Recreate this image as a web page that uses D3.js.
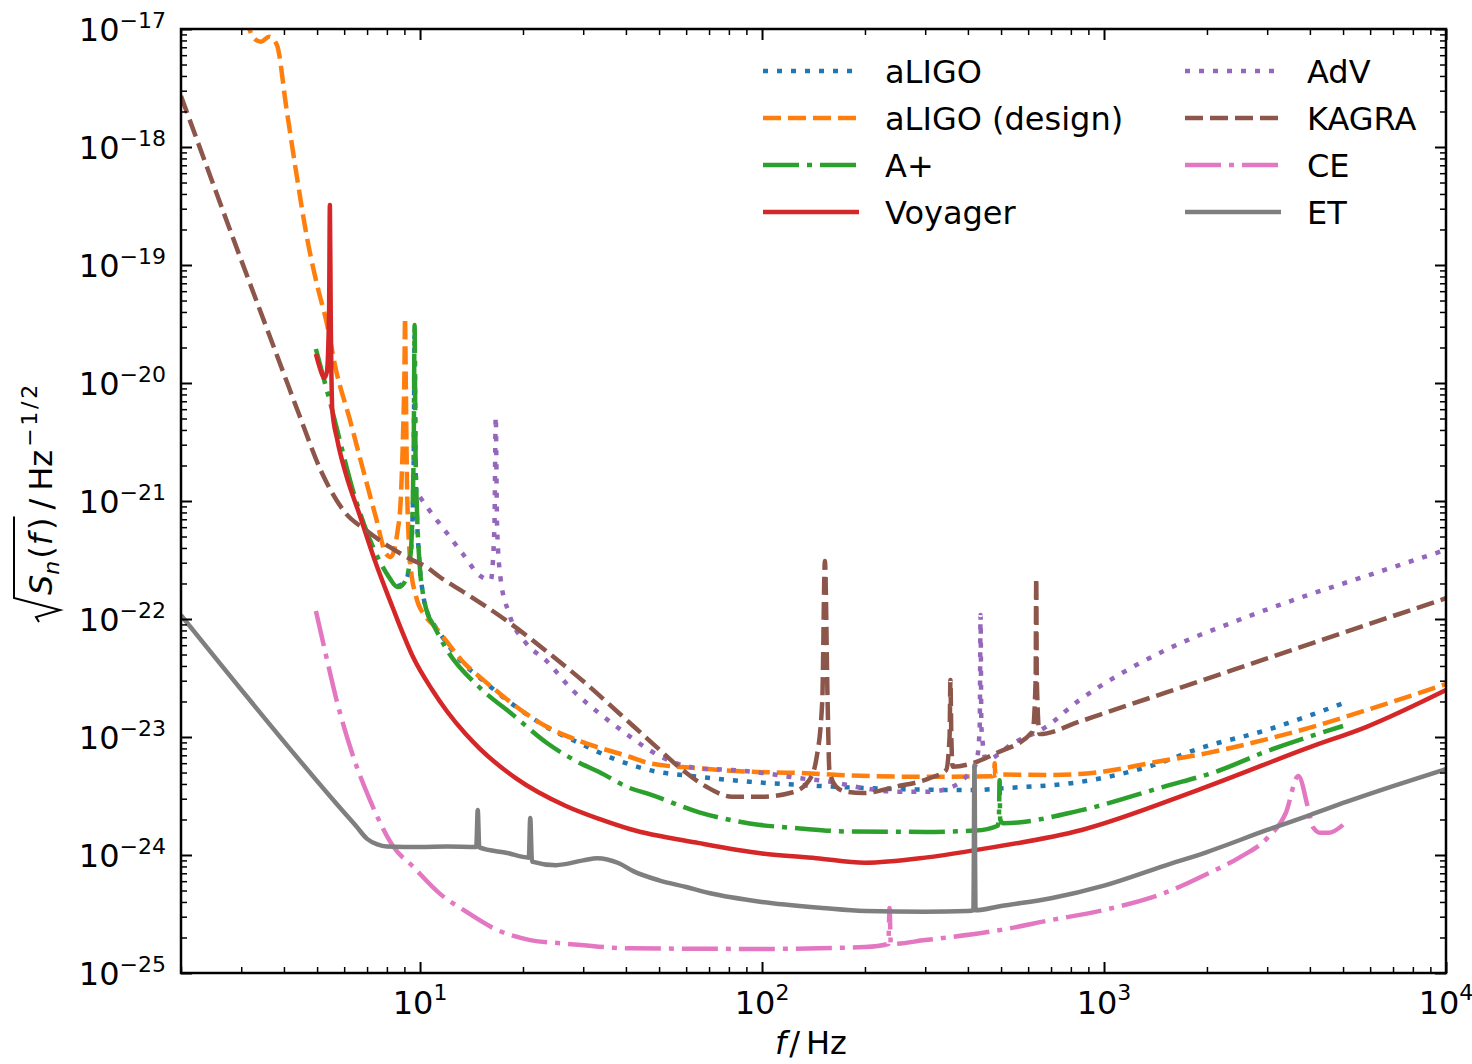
<!DOCTYPE html>
<html>
<head>
<meta charset="utf-8">
<script src="https://cdn.jsdelivr.net/npm/d3@7"></script>
<style>
  body { margin: 0; background: #fff; }
  svg text { font-family: "DejaVu Sans", sans-serif; fill: #000; }
</style>
</head>
<body>
<svg id="chart" width="1472" height="1064"></svg>
<script>
// Шумовые кривые детекторов: частота (Гц) и ASD (1/sqrt(Гц))
const aligoF   = [8.6, 9.1, 9.4, 9.58, 9.64, 9.7, 10.0, 10.16, 10.6, 11.0, 13.6, 15, 17, 18.7, 23.5, 29.4, 37.6, 46.8, 65.5, 92, 129, 160, 250, 420, 500, 860, 1400, 1900, 3000, 5000];
const aligoAsd = [1.9e-22, 2.14e-22, 3.63e-22, 2.0e-21, 2.5e-20, 2.0e-21, 2.6e-22, 1.76e-22, 1.05e-22, 8.9e-23, 4.0e-23, 3.15e-23, 2.33e-23, 1.88e-23, 1.21e-23, 8.8e-24, 6.4e-24, 5.25e-24, 4.6e-24, 4.18e-24, 3.92e-24, 3.8e-24, 3.62e-24, 3.55e-24, 3.67e-24, 4.18e-24, 5.8e-24, 8.0e-24, 1.15e-23, 1.93e-23];

const designF   = [3.1, 3.24, 3.43, 3.62, 3.81, 4.07, 4.36, 4.66, 4.98, 5.33, 5.7, 6.2, 6.78, 7.42, 7.94, 8.21, 8.58, 8.78, 8.92, 9.0, 9.04, 9.08, 9.18, 9.39, 9.71, 10.4, 10.94, 13.6, 15, 17, 18.7, 23.5, 29.4, 41, 46.8, 65.5, 92, 129, 168, 300, 470, 477, 479, 481, 490, 700, 1000, 1400, 2000, 3000, 4000, 5860, 10000];
const designAsd = [1.3e-17, 8.6e-18, 7.8e-18, 8.6e-18, 7.4e-18, 2.1e-18, 5.7e-19, 1.77e-19, 7.1e-20, 3.27e-20, 1.23e-20, 5.18e-21, 1.95e-21, 7.36e-22, 3.6e-22, 3.35e-22, 5.35e-22, 1.02e-21, 3.77e-21, 1.2e-20, 3.56e-20, 1.2e-20, 1.02e-21, 2.77e-22, 1.6e-22, 1.04e-22, 8.9e-23, 4.1e-23, 3.2e-23, 2.37e-23, 1.9e-23, 1.22e-23, 9.2e-24, 6.8e-24, 6.0e-24, 5.43e-24, 5.08e-24, 4.96e-24, 4.77e-24, 4.6e-24, 4.66e-24, 4.7e-24, 6.0e-24, 4.75e-24, 4.8e-24, 4.77e-24, 5.1e-24, 6.1e-24, 7.3e-24, 9.6e-24, 1.2e-23, 1.69e-23, 2.81e-23];

const aplusF   = [4.96, 5.34, 5.5, 6.49, 7.59, 8.11, 8.58, 8.68, 9.08, 9.39, 9.58, 9.64, 9.7, 10.0, 10.16, 10.6, 10.86, 11.97, 15, 18.7, 23.5, 29.4, 33.4, 41, 46.8, 65.5, 92, 129, 180, 300, 420, 489, 493, 495, 497, 508, 860, 1500, 2130, 3000, 5000];
const aplusAsd = [1.94e-20, 8.7e-21, 6.3e-21, 1.02e-21, 3.16e-22, 2.27e-22, 1.87e-22, 1.87e-22, 2.14e-22, 3.63e-22, 2.5e-21, 3.1e-20, 2.5e-21, 2.6e-22, 1.76e-22, 1.05e-22, 9.25e-23, 5.5e-23, 2.6e-23, 1.54e-23, 8.9e-24, 6.0e-24, 5.05e-24, 3.7e-24, 3.28e-24, 2.3e-24, 1.85e-24, 1.68e-24, 1.58e-24, 1.57e-24, 1.61e-24, 1.77e-24, 2.2e-24, 4.3e-24, 2.0e-24, 1.86e-24, 2.4e-24, 3.8e-24, 5.1e-24, 7.6e-24, 1.24e-23];

const voyagerF   = [4.96, 5.15, 5.24, 5.34, 5.42, 5.45, 5.48, 5.54, 5.73, 6.06, 6.63, 7.42, 8.30, 8.68, 9.54, 10.86, 11.97, 13.6, 15, 19, 26.7, 33.4, 41, 65.5, 100, 144, 200, 300, 420, 860, 1880, 4000, 5860, 10000];
const voyagerAsd = [1.76e-20, 1.22e-20, 1.1e-20, 1.24e-20, 4e-20, 3.23e-19, 4e-20, 5.9e-21, 3.29e-21, 1.72e-21, 7.9e-22, 2.98e-22, 1.27e-22, 9.1e-23, 4.76e-23, 2.5e-23, 1.66e-23, 1.06e-23, 7.9e-24, 4.5e-24, 2.6e-24, 2.02e-24, 1.66e-24, 1.26e-24, 1.03e-24, 9.4e-25, 8.6e-25, 9.5e-25, 1.1e-24, 1.63e-24, 3.55e-24, 8.2e-24, 1.22e-23, 2.5e-23];

const advF   = [10, 10.63, 11.89, 13.3, 15, 16.1, 16.5, 16.65, 16.8, 17.2, 18.2, 20.4, 23.3, 27.9, 33.4, 40, 46.8, 56, 65.5, 81.8, 100, 129, 157, 197, 247, 309, 361, 395, 423, 433, 435.5, 438, 452, 540, 677, 848, 970, 1522, 2384, 3735, 5860, 10000];
const advAsd = [1.08e-21, 8.4e-22, 5.5e-22, 3.6e-22, 2.32e-22, 2.14e-22, 6e-22, 5.18e-21, 6e-22, 2.2e-22, 1.12e-22, 6.26e-23, 4.48e-23, 2.5e-23, 1.59e-23, 1.07e-23, 7.75e-24, 6.0e-24, 5.43e-24, 5.25e-24, 4.96e-24, 4.47e-24, 4.2e-24, 3.7e-24, 3.44e-24, 3.44e-24, 3.8e-24, 4.6e-24, 6.0e-24, 1.2e-23, 1.08e-22, 1.2e-23, 6.4e-24, 8.8e-24, 1.22e-23, 2.06e-23, 2.67e-23, 5.5e-23, 9.4e-23, 1.51e-22, 2.32e-22, 3.86e-22];

const kagraF   = [2.0, 3.0, 4.0, 4.43, 5.18, 6.06, 6.94, 8.12, 9.5, 10.4, 11.4, 13.6, 17.8, 23.85, 30.5, 38.2, 47.9, 58.6, 68.6, 81.8, 100, 123, 137.5, 144, 150, 152.7, 155.5, 157.4, 164.6, 176, 197, 247, 309, 345.5, 353.5, 355.6, 357.7, 361, 412.6, 484, 618, 631, 633.6, 636, 648, 848, 970, 1522, 2384, 3735, 5860, 10000];
const kagraAsd = [2.7e-18, 1.1e-19, 1.19e-20, 5.4e-21, 1.7e-21, 7.87e-22, 5.68e-22, 4.1e-22, 3.16e-22, 2.78e-22, 2.28e-22, 1.65e-22, 9.8e-23, 5.12e-23, 2.85e-23, 1.59e-23, 8.8e-24, 5.25e-24, 3.8e-24, 3.12e-24, 3.12e-24, 3.4e-24, 4.32e-24, 6.4e-24, 2.0e-23, 3.1e-22, 2.0e-23, 5.25e-24, 3.8e-24, 3.44e-24, 3.35e-24, 3.8e-24, 4.47e-24, 5.25e-24, 1.0e-23, 3.04e-23, 1.0e-23, 5.6e-24, 6.0e-24, 7.3e-24, 1.11e-23, 3.0e-23, 2.22e-22, 3.0e-23, 1.06e-23, 1.35e-23, 1.54e-23, 2.39e-23, 3.7e-23, 5.75e-23, 8.91e-23, 1.5e-22];

const ceF   = [4.96, 5.21, 5.70, 6.38, 7.14, 8.35, 9.54, 11.4, 13.4, 16.8, 21, 26.2, 41.2, 100, 200, 234, 236, 238, 300, 500, 700, 1000, 1500, 2000, 2500, 3000, 3400, 3700, 3950, 4080, 4300, 4540, 5000];
const ceAsd = [1.17e-22, 6.26e-23, 2.06e-23, 6.8e-24, 2.92e-24, 1.18e-24, 7.96e-25, 4.73e-25, 3.42e-25, 2.32e-25, 1.9e-25, 1.78e-25, 1.62e-25, 1.6e-25, 1.66e-25, 1.76e-25, 3.55e-25, 1.76e-25, 1.9e-25, 2.32e-25, 2.81e-25, 3.42e-25, 4.75e-25, 6.9e-25, 9.6e-25, 1.39e-24, 2.27e-24, 4.67e-24, 2.5e-24, 1.73e-24, 1.54e-24, 1.54e-24, 1.8e-24];

const etF   = [2, 6, 6.5, 7, 7.5, 8, 9, 10, 12, 14.6, 14.75, 14.9, 18, 20.8, 21.0, 21.25, 25, 30, 33, 38, 42, 50, 60, 70, 100, 150, 200, 300, 400, 415, 418, 421, 500, 700, 1000, 1500, 2000, 3000, 4000, 5000, 7000, 10000];
const etAsd = [1.08e-22, 2.29e-24, 1.76e-24, 1.37e-24, 1.23e-24, 1.18e-24, 1.17e-24, 1.17e-24, 1.18e-24, 1.17e-24, 2.41e-24, 1.16e-24, 1.04e-24, 9.5e-25, 2.06e-24, 8.8e-25, 8.2e-25, 9.0e-25, 9.4e-25, 8.55e-25, 7.3e-25, 6.1e-25, 5.35e-25, 4.76e-25, 4.0e-25, 3.56e-25, 3.35e-25, 3.3e-25, 3.35e-25, 3.4e-25, 5.8e-24, 3.4e-25, 3.7e-25, 4.3e-25, 5.5e-25, 8.1e-25, 1.06e-24, 1.63e-24, 2.18e-24, 2.76e-24, 3.84e-24, 5.35e-24];

// Подписи осей
const xTickValues = [10, 100, 1000, 10000];
const xTickExps   = ["1", "2", "3", "4"];
const yTickValues = [1e-25, 1e-24, 1e-23, 1e-22, 1e-21, 1e-20, 1e-19, 1e-18, 1e-17];
const yTickExps   = ["\u221225", "\u221224", "\u221223", "\u221222", "\u221221", "\u221220", "\u221219", "\u221218", "\u221217"];

const dotted  = "5,9";
const dashed  = "18,7";
const dashdot = "36,8,5,8";

const series = [
    { name: "aLIGO",          f: aligoF,   asd: aligoAsd,   color: "#1f77b4", dash: dotted },
    { name: "aLIGO (design)", f: designF,  asd: designAsd,  color: "#ff7f0e", dash: dashed },
    { name: "A+",             f: aplusF,   asd: aplusAsd,   color: "#2ca02c", dash: dashdot },
    { name: "Voyager",        f: voyagerF, asd: voyagerAsd, color: "#d62728", dash: null },
    { name: "AdV",            f: advF,     asd: advAsd,     color: "#9467bd", dash: dotted },
    { name: "KAGRA",          f: kagraF,   asd: kagraAsd,   color: "#8c564b", dash: dashed },
    { name: "CE",             f: ceF,      asd: ceAsd,      color: "#e377c2", dash: dashdot },
    { name: "ET",             f: etF,      asd: etAsd,      color: "#7f7f7f", dash: null }
];

// Размеры области графика
const plotL = 181, plotR = 1446, plotT = 29, plotB = 973;
const fontSize = 32, supSize = 22;

const svg = d3.select("#chart");

const x = d3.scaleLog().domain([2, 1e4]).range([plotL, plotR]);
const y = d3.scaleLog().domain([1e-25, 1e-17]).range([plotB, plotT]);

svg.append("clipPath").attr("id", "plot-clip")
    .append("rect")
    .attr("x", plotL).attr("y", plotT)
    .attr("width", plotR - plotL).attr("height", plotB - plotT);

// Кривые
const line = d3.line()
    .x(d => x(d[0]))
    .y(d => y(d[1]))
    .curve(d3.curveMonotoneX);

const plot = svg.append("g").attr("clip-path", "url(#plot-clip)");

series.forEach(s => {
    plot.append("path")
        .datum(d3.zip(s.f, s.asd))
        .attr("d", line)
        .attr("fill", "none")
        .attr("stroke", s.color)
        .attr("stroke-width", 4.5)
        .attr("stroke-linejoin", "round")
        .attr("stroke-dasharray", s.dash);
});

// Деления (внутрь, на всех четырёх сторонах)
const xMinor = [];
[1, 10, 100, 1000].forEach(dec => {
    for (let k = 2; k <= 9; k++) if (k * dec >= 2) xMinor.push(k * dec);
});
const yMinor = [];
for (let e = -25; e < -17; e++) {
    for (let k = 2; k <= 9; k++) yMinor.push(k * Math.pow(10, e));
}

function ticks(axis, scale, values, size, width, translate) {
    const g = svg.append("g")
        .attr("transform", translate)
        .call(axis(scale).tickValues(values).tickSize(-size).tickSizeOuter(0).tickFormat(""));
    g.select(".domain").remove();
    g.selectAll(".tick line").attr("stroke", "#000").attr("stroke-width", width);
}

ticks(d3.axisBottom, x, xTickValues, 11, 2, `translate(0,${plotB})`);
ticks(d3.axisBottom, x, xMinor, 6, 1.5, `translate(0,${plotB})`);
ticks(d3.axisTop, x, xTickValues, 11, 2, `translate(0,${plotT})`);
ticks(d3.axisTop, x, xMinor, 6, 1.5, `translate(0,${plotT})`);
ticks(d3.axisLeft, y, yTickValues, 11, 2, `translate(${plotL},0)`);
ticks(d3.axisLeft, y, yMinor, 6, 1.5, `translate(${plotL},0)`);
ticks(d3.axisRight, y, yTickValues, 11, 2, `translate(${plotR},0)`);
ticks(d3.axisRight, y, yMinor, 6, 1.5, `translate(${plotR},0)`);

// Рамка
svg.append("rect")
    .attr("x", plotL).attr("y", plotT)
    .attr("width", plotR - plotL).attr("height", plotB - plotT)
    .attr("fill", "none")
    .attr("stroke", "#000")
    .attr("stroke-width", 2.5);

// Подписи делений
xTickValues.forEach((v, i) => {
    const t = svg.append("text")
        .attr("x", x(v))
        .attr("y", plotB + 41)
        .attr("text-anchor", "middle")
        .attr("font-size", fontSize);
    t.append("tspan").text("10");
    t.append("tspan").attr("dy", -14).attr("font-size", supSize).text(xTickExps[i]);
});

yTickValues.forEach((v, i) => {
    const t = svg.append("text")
        .attr("x", 166)
        .attr("y", y(v) + 12)
        .attr("text-anchor", "end")
        .attr("font-size", fontSize);
    t.append("tspan").text("10");
    t.append("tspan").attr("dy", -13).attr("font-size", supSize).text(yTickExps[i]);
});

// Подпись оси X
const xl = svg.append("text")
    .attr("x", 775)
    .attr("y", 1054)
    .attr("font-size", fontSize);
xl.append("tspan").attr("font-style", "italic").text("f");
xl.append("tspan").attr("dx", 3).text("/");
xl.append("tspan").attr("dx", 6).text("Hz");

// Подпись оси Y: sqrt(S_n(f)) / Hz^{-1/2}
const yl = svg.append("g").attr("transform", "translate(52,622) rotate(-90)");
let u = 27;
function piece(str, opt = {}) {
    const t = yl.append("text")
        .attr("x", u)
        .attr("y", opt.dy || 0)
        .attr("font-size", opt.size || fontSize)
        .attr("font-style", opt.italic ? "italic" : null)
        .text(str);
    if (opt.len) t.attr("textLength", opt.len).attr("lengthAdjust", "spacing");
    u += (opt.len || t.node().getComputedTextLength()) + (opt.gap || 0);
    return t;
}
piece("S", { italic: true, gap: 0 });
piece("n", { italic: true, size: supSize, dy: 7, gap: 2 });
piece("(", { gap: 1 });
piece("f", { italic: true, gap: 4 });
piece(")", {});
const rootEnd = u + 1;
u += 8;
piece("/", { gap: 8 });
piece("Hz", { gap: 3 });
piece("\u22121/2", { size: supSize, dy: -15, len: 62 });

yl.append("path")
    .attr("d", `M0,-13 L5,-16 L12,8 L24,-38 L${rootEnd},-38`)
    .attr("fill", "none")
    .attr("stroke", "#000")
    .attr("stroke-width", 2);

// Легенда
const legend = svg.append("g");
series.forEach((s, i) => {
    const col = Math.floor(i / 4), row = i % 4;
    const x0 = col === 0 ? 763 : 1185;
    const yy = 71 + row * 47;
    legend.append("line")
        .attr("x1", x0).attr("x2", x0 + 96)
        .attr("y1", yy).attr("y2", yy)
        .attr("stroke", s.color)
        .attr("stroke-width", 4.5)
        .attr("stroke-dasharray", s.dash);
    legend.append("text")
        .attr("x", x0 + 122)
        .attr("y", yy + 12)
        .attr("font-size", fontSize)
        .text(s.name);
});
</script>
</body>
</html>
